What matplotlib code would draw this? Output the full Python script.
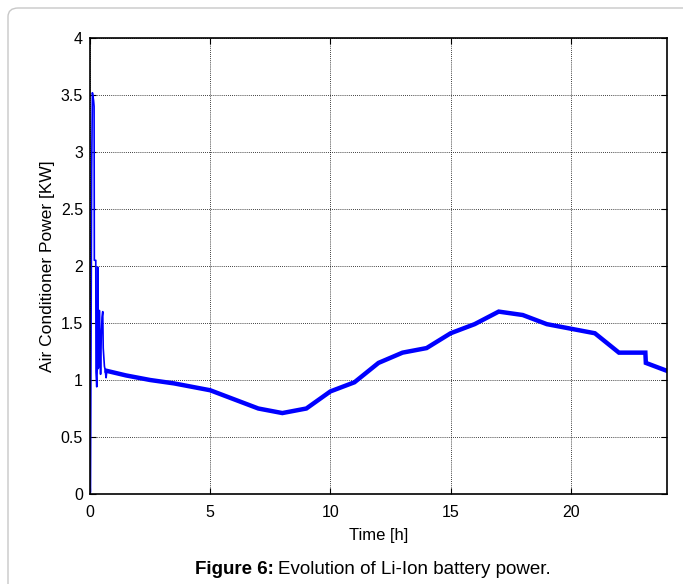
import matplotlib
matplotlib.use("Agg")
import matplotlib.pyplot as plt
from matplotlib.patches import FancyBboxPatch

plt.rcParams['font.family'] = ['Liberation Sans', 'DejaVu Sans']

# start-up transient (thin trace)
spike_t = [0.0, 0.02, 0.07, 0.10, 0.15, 0.17, 0.18, 0.24, 0.25, 0.28, 0.30, 0.32, 0.34, 0.36,
           0.39, 0.42, 0.44, 0.47, 0.50, 0.53, 0.55, 0.60, 0.62, 0.67, 0.70]
spike_p = [0.0, 0.02, 2.84, 3.52, 3.45, 3.40, 2.05, 2.05, 1.07, 0.94, 1.10, 1.99, 1.10, 1.11,
           1.61, 1.30, 1.05, 1.40, 1.55, 1.60, 1.28, 1.12, 1.10, 1.02, 1.08]

# main trace (thick)
time_h = [0.70, 1.5, 2.5, 3.5, 5.0, 6.0, 7.0, 8.0, 9.0, 10.0, 11.0, 12.0, 13.0, 14.0,
          15.0, 16.0, 17.0, 18.0, 19.0, 20.0, 21.0, 22.0, 23.1, 23.12, 24.0]
power_kw = [1.08, 1.04, 1.00, 0.97, 0.91, 0.83, 0.75, 0.71, 0.75, 0.90, 0.98, 1.15, 1.24, 1.28,
            1.41, 1.49, 1.60, 1.57, 1.49, 1.45, 1.41, 1.24, 1.24, 1.15, 1.08]

x_ticks = [0, 5, 10, 15, 20]
y_ticks = [0, 0.5, 1, 1.5, 2, 2.5, 3, 3.5, 4]
y_tick_labels = ['0', '0.5', '1', '1.5', '2', '2.5', '3', '3.5', '4']

fig = plt.figure(figsize=(6.83, 5.84), dpi=100)

frame = FancyBboxPatch((8 / 683, -0.05), 1.2, 1.0 - 8 / 584 + 0.05,
                       boxstyle="round,pad=0,rounding_size=0.015",
                       transform=fig.transFigure, facecolor='white',
                       edgecolor='#c8c8c8', linewidth=1.0, zorder=-10)
fig.patches.append(frame)

ax = fig.add_axes([90 / 683, 90 / 584, (667 - 90) / 683, (494 - 38) / 584])
ax.set_zorder(5)
ax.plot(spike_t, spike_p, color='#0000ff', linewidth=1.2)
ax.plot(time_h, power_kw, color='#0000ff', linewidth=3.2, solid_joinstyle='miter')

ax.set_xlim(0, 24)
ax.set_ylim(0, 4)
ax.set_xticks(x_ticks)
ax.set_yticks(y_ticks)
ax.set_yticklabels(y_tick_labels)
ax.grid(True, color='black', linestyle=(0, (1, 1.5)), linewidth=0.6)
ax.tick_params(direction='in', top=True, right=True, labelsize=11.5, length=4, width=0.8)
ax.tick_params(axis='x', pad=8)
ax.tick_params(axis='y', pad=5)
for s in ax.spines.values():
    s.set_linewidth(1.2)
ax.set_xlabel('Time [h]', fontsize=12, labelpad=6)
ax.set_ylabel('Air Conditioner Power [KW]', fontsize=12.5, labelpad=4)

t1 = fig.text(0, 0, 'Figure 6:', fontsize=13.5, fontweight='bold', va='center')
t2 = fig.text(0, 0, 'Evolution of Li-Ion battery power.', fontsize=13.5, va='center')
fig.canvas.draw()
r = fig.canvas.get_renderer()
w1 = t1.get_window_extent(r).width
w2 = t2.get_window_extent(r).width
gap = 4
cx = 373
x0 = cx - (w1 + gap + w2) / 2
yc = 584 - 569
t1.set_position((x0 / 683, yc / 584))
t2.set_position(((x0 + w1 + gap) / 683, yc / 584))

fig.savefig('out.png', dpi=100)
